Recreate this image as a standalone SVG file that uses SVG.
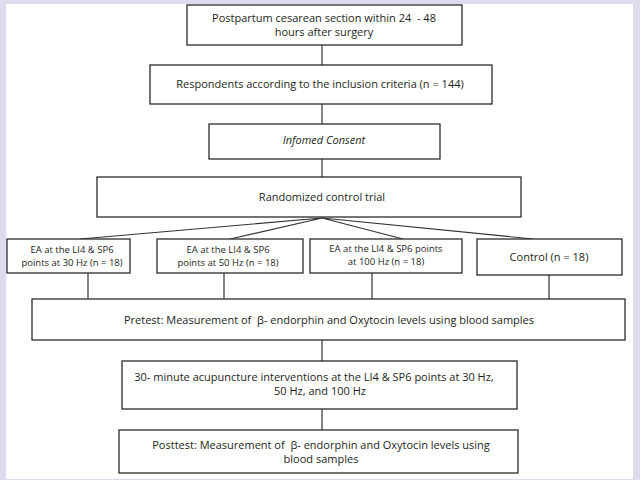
<svg xmlns="http://www.w3.org/2000/svg" width="640" height="480" viewBox="0 0 640 480">
<style>
.bx{fill:#fff;stroke:#2b2b2b;stroke-width:1.3}
.ln{stroke:#333;stroke-width:1.2;fill:none}
text{font-family:"Open Sans","Liberation Sans",Arial,sans-serif;font-size:11px;fill:#231f20;text-anchor:middle}
.s{font-size:9.5px}
</style>
<rect width="640" height="480" fill="#dcdcee"/>
<rect x="6" y="4" width="627" height="475" fill="#fff"/>
<g id="connectors">
<path class="ln" d="M322 45V65M322 104V124M322 159V177"/>
<path class="ln" d="M322 218L80 239M322 218L230 239M322 218L403 239M322 218L533 239"/>
<path class="ln" d="M88 273V299M224 273V299M372 273V299M549 275V299"/>
<path class="ln" d="M322 340V361M322 409V430"/>
</g>
<g id="n1"><rect class="bx" x="187" y="5" width="275" height="40"/><text x="324" y="22">Postpartum cesarean section within 24 &#160;- 48</text><text x="324" y="36">hours after surgery</text></g>
<g id="n2"><rect class="bx" x="150" y="65" width="342" height="39"/><text x="320" y="88">Respondents according to the inclusion criteria (n = 144)</text></g>
<g id="n3"><rect class="bx" x="209" y="124" width="231" height="35"/><text x="324" y="144" font-style="italic">Infomed Consent</text></g>
<g id="n4"><rect class="bx" x="97" y="177" width="424" height="40"/><text x="322" y="201">Randomized control trial</text></g>
<g id="n5"><rect class="bx" x="7" y="239" width="123" height="34"/><text class="s" x="72" y="253">EA at the LI4 &amp; SP6</text><text class="s" x="72" y="266">points at 30 Hz (n = 18)</text></g>
<g id="n6"><rect class="bx" x="157" y="239" width="146" height="34"/><text class="s" x="228" y="253">EA at the LI4 &amp; SP6</text><text class="s" x="228" y="266">points at 50 Hz (n = 18)</text></g>
<g id="n7"><rect class="bx" x="310" y="239" width="152" height="34"/><text class="s" x="386" y="252">EA at the LI4 &amp; SP6 points</text><text class="s" x="386" y="265">at 100 Hz (n = 18)</text></g>
<g id="n8"><rect class="bx" x="477" y="239" width="145" height="36"/><text x="549" y="261">Control (n = 18)</text></g>
<g id="n9"><rect class="bx" x="32" y="299" width="593" height="41"/><text x="329" y="324">Pretest: Measurement of &#160;β- endorphin and Oxytocin levels using blood samples</text></g>
<g id="n10"><rect class="bx" x="122" y="361" width="395" height="48"/><text x="314" y="381">30- minute acupuncture interventions at the LI4 &amp; SP6 points at 30 Hz,</text><text x="320" y="395">50 Hz, and 100 Hz</text></g>
<g id="n11"><rect class="bx" x="119" y="430" width="399" height="43"/><text x="321" y="449">Posttest: Measurement of &#160;β- endorphin and Oxytocin levels using</text><text x="321" y="463">blood samples</text></g>
</svg>
